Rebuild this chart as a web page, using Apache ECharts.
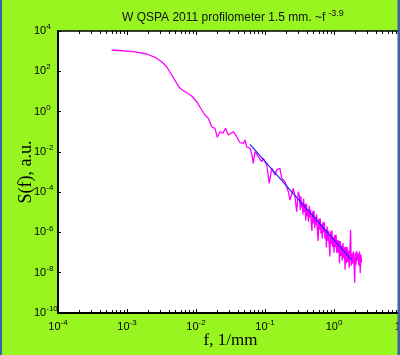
<!DOCTYPE html>
<html><head><meta charset="utf-8">
<script src="https://cdn.jsdelivr.net/npm/echarts@6/dist/echarts.min.js"></script>
<style>html,body{margin:0;padding:0;background:#99f520;}#c{width:400px;height:355px;}</style>
</head><body><div id="c"></div>
<script>
// ---- chart text ----
const titleMain = 'W QSPA 2011 profilometer 1.5 mm. ~f';
const titleExp = '-3.9';
const xName = 'f, 1/mm';
const yName = 'S(f), a.u.';
// ---- tick label exponents (decades) ----
const xTickExps = [-4, -3, -2, -1, 0, 1];
const yTickExps = [-10, -8, -6, -4, -2, 0, 2, 4];
// ---- spectrum: log10 of frequency (1/mm) and log10 of S(f) ----
const specLog10F = [
  -3.222,-2.909,-2.714,-2.594,-2.497,-2.425,-2.352,-2.280,-2.232,-2.159,
  -2.062,-1.990,-1.917,-1.870,-1.822,-1.772,-1.725,-1.691,-1.652,-1.613,
  -1.570,-1.532,-1.459,-1.410,-1.362,-1.314,-1.290,-1.265,-1.217,
  -1.193,-1.170,-1.145,-1.097,-1.072,-1.048,-1.025,-0.975,-0.938,-0.903,
  -0.855,-0.830,-0.783,-0.758,-0.710,-0.686,-0.662,-0.638,-0.590,-0.565,-0.541,-0.517,
  -0.50,-0.49,-0.48,-0.47,-0.46,-0.45,-0.44,-0.43,-0.42,-0.41,
  -0.40,-0.39,-0.38,-0.37,-0.36,-0.35,-0.34,-0.33,-0.32,-0.31,
  -0.30,-0.29,-0.28,-0.27,-0.26,-0.25,-0.24,-0.23,-0.22,-0.21,
  -0.20,-0.19,-0.18,-0.17,-0.16,-0.15,-0.14,-0.13,-0.12,-0.11,
  -0.10,-0.09,-0.08,-0.07,-0.06,-0.05,-0.04,-0.03,-0.02,-0.01,
  0.00,0.01,0.02,0.03,0.04,0.05,0.06,0.07,0.08,0.09,
  0.10,0.11,0.12,0.13,0.14,0.15,0.16,0.17,0.18,0.19,
  0.20,0.21,0.22,0.23,0.24,0.25,0.26,0.27,0.28,0.29,
  0.30,0.31,0.32,0.33,0.34,0.35,0.36,0.37,0.38,0.39,0.40
];
const specLog10S = [
  3.057,2.972,2.858,2.694,2.476,2.227,1.815,1.403,1.155,0.986,
  0.773,0.490,0.077,-0.171,-0.335,-0.752,-0.831,-1.278,-1.000,-1.079,
  -0.831,-1.164,-1.000,-1.248,-1.546,-1.576,-1.412,-1.745,-1.824,
  -2.072,-2.569,-1.993,-2.241,-2.157,-2.489,-2.321,-2.653,-3.562,-2.817,
  -3.150,-2.902,-2.817,-3.314,-3.483,-3.731,-3.979,-4.391,-3.810,-4.227,-4.972,-3.979,
  -4.206,-4.885,-4.214,-4.753,-4.502,-5.111,-4.330,-4.979,-4.588,-5.407,
  -4.566,-5.205,-4.884,-5.463,-4.682,-5.261,-4.860,-5.509,-5.928,-4.947,
  -5.556,-4.915,-5.774,-5.213,-5.642,-5.111,-6.000,-6.429,-5.328,-5.867,
  -5.296,-6.055,-5.594,-6.303,-5.502,-6.001,-5.500,-6.329,-5.858,-6.747,
  -5.706,-6.415,-5.914,-6.603,-7.192,-5.961,-6.570,-5.899,-6.718,-6.227,
  -7.006,-6.125,-6.734,-6.103,-7.022,-6.381,-7.000,-6.399,-7.538,-6.427,
  -7.186,-6.655,-7.404,-6.523,-7.272,-6.741,-7.850,-6.709,-7.528,-6.727,
  -7.466,-6.905,-7.764,-6.933,-5.862,-7.651,-7.050,-7.550,-6.950,-7.450,
  -8.500,-7.000,-7.600,-6.930,-7.400,-7.050,-7.650,-6.950,-8.030,-7.100,-7.500
];
// ---- power-law fit ~ f^-3.9 (end points, log10) ----
const fitLog10F = [-1.217, 0.257];
const fitLog10S = [-1.630, -7.379];

const GREEN = '#99f520';
const BLUE_EDGE = '#4160a8';
const chart = echarts.init(document.getElementById('c'), null, {renderer: 'canvas', width: 400, height: 355});

const minorExps = [];
for (let k = xTickExps[0]; k < xTickExps[xTickExps.length - 1]; k++) {
  for (let d = 2; d <= 9; d++) minorExps.push([k + Math.log10(d), 0]);
}
const labelRich = {
  b: {fontFamily: 'Liberation Sans', fontSize: 11, color: '#000'},
  e: {fontFamily: 'Liberation Sans', fontSize: 8, color: '#000', padding: [0, 0, 8, 0]}
};
const fmt = v => '{b|10}{e|' + Math.round(v) + '}';

chart.setOption({
  backgroundColor: GREEN,
  animation: false,
  title: {
    text: '{m|' + titleMain + '}{e|' + titleExp + '}',
    left: 117, top: 4,
    textStyle: {fontWeight: 'normal', rich: {
      m: {fontFamily: 'Liberation Sans', fontSize: 12, fontWeight: 'normal', color: '#111'},
      e: {fontFamily: 'Liberation Sans', fontSize: 9, fontWeight: 'normal', color: '#111', padding: [0, 0, 9, 3]}
    }}
  },
  grid: {left: 58, top: 31, right: -3, bottom: 42, show: true, backgroundColor: '#fff', borderWidth: 0,
         containLabel: false, outerBoundsMode: 'none'},
  xAxis: [{
    type: 'value', min: xTickExps[0], max: xTickExps[xTickExps.length - 1], interval: 1, position: 'bottom',
    name: xName, nameLocation: 'middle', nameGap: 19, nameMoveOverlap: false,
    nameTextStyle: {fontFamily: 'Liberation Serif', fontSize: 17, color: '#000'},
    axisLine: {show: true, onZero: false, lineStyle: {color: '#000', width: 2}},
    axisTick: {show: true, inside: true, length: 4, lineStyle: {color: '#000'}},
    axisLabel: {formatter: fmt, margin: 6, rich: labelRich},
    splitLine: {show: false}
  }, {
    type: 'value', min: xTickExps[0], max: xTickExps[xTickExps.length - 1], interval: 1, position: 'top',
    axisLine: {show: true, onZero: false, lineStyle: {color: '#000', width: 1.5}},
    axisTick: {show: true, inside: true, length: 4, lineStyle: {color: '#000'}},
    axisLabel: {show: false}, splitLine: {show: false}
  }],
  yAxis: [{
    type: 'value', min: yTickExps[0], max: yTickExps[yTickExps.length - 1], interval: 2, position: 'left',
    name: yName, nameLocation: 'middle', nameGap: 23, nameRotate: 90, nameMoveOverlap: false,
    nameTextStyle: {fontFamily: 'Liberation Serif', fontSize: 18, color: '#000'},
    axisLine: {show: true, onZero: false, lineStyle: {color: '#000', width: 2}},
    axisTick: {show: true, inside: true, length: 3, lineStyle: {color: '#000'}},
    axisLabel: {formatter: fmt, margin: 24, align: 'left', rich: labelRich},
    splitLine: {show: false}
  }],
  graphic: [
    {type: 'rect', left: 0, top: 0, z: 100, shape: {width: 2, height: 355}, style: {fill: BLUE_EDGE}},
    {type: 'rect', left: 397.5, top: 0, z: 100, shape: {width: 3, height: 355}, style: {fill: BLUE_EDGE}}
  ],
  series: [{
    type: 'line', xAxisIndex: 0, yAxisIndex: 0, showSymbol: false, z: 2,
    data: specLog10F.map((f, i) => [f, specLog10S[i]]),
    lineStyle: {color: '#ff00ff', width: 1.3}
  }, {
    type: 'line', xAxisIndex: 0, yAxisIndex: 0, showSymbol: false, z: 3,
    data: fitLog10F.map((f, i) => [f, fitLog10S[i]]),
    lineStyle: {color: '#2020ff', width: 1.2}
  }, {
    type: 'custom', xAxisIndex: 0, yAxisIndex: 0, silent: true, clip: false, z: 4,
    data: minorExps,
    encode: {x: 0, y: 1},
    renderItem: (params, api) => {
      const xv = api.value(0);
      const pb = api.coord([xv, yTickExps[0]]);
      const pt = api.coord([xv, yTickExps[yTickExps.length - 1]]);
      const x = Math.round(pb[0]) + 0.5;
      return {type: 'group', children: [
        {type: 'line', shape: {x1: x, y1: pb[1], x2: x, y2: pb[1] - 3}, style: {stroke: '#000', lineWidth: 1}},
        {type: 'line', shape: {x1: x, y1: pt[1], x2: x, y2: pt[1] + 3}, style: {stroke: '#000', lineWidth: 1}}
      ]};
    }
  }]
});
</script></body></html>
